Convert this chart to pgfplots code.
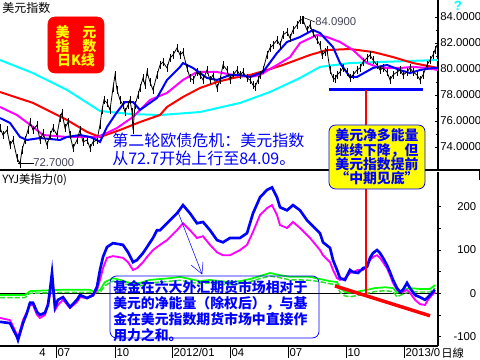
\documentclass[border=0pt]{standalone}
\usepackage{pgfplots}
\pgfplotsset{compat=1.18}
\usepackage{fontspec}
\setmainfont{Liberation Sans}
\newfontfamily\cjk{Noto Sans CJK SC}
\definecolor{lblgray}{RGB}{70,70,90}
\definecolor{mcyan}{RGB}{0,255,255}
\definecolor{mmag}{RGB}{255,0,255}
\definecolor{mblue}{RGB}{0,0,255}
\definecolor{mred}{RGB}{255,0,0}
\definecolor{myel}{RGB}{255,255,0}
\definecolor{mgreen}{RGB}{0,255,0}
\definecolor{mgreen2}{RGB}{40,225,40}
\begin{document}
\begin{tikzpicture}
\useasboundingbox (0,0) rectangle (360pt,270pt);
\fill[white] (0,0) rectangle (360pt,270pt);
% ---------------- top panel ----------------
\begin{axis}[
  at={(0pt,142.5pt)}, anchor=south west,
  scale only axis, width=328.5pt, height=127.5pt,
  xmin=0, xmax=438, ymin=72.23, ymax=85.31,
  axis x line*=bottom, axis y line*=right,
  axis line style={line width=1.5pt,-},
  xtick=\empty,
  ytick={74,76,78,80,82,84}, minor y tick num=1,
  tick align=inside,
  major tick length=2pt, minor tick length=1.5pt,
  tick style={black,line width=0.6pt},
  /pgf/number format/assume math mode=true,
  yticklabel style={font=\fontsize{8.5}{10}\selectfont, anchor=west, inner sep=0pt, xshift=1.5pt,
    /pgf/number format/fixed, /pgf/number format/fixed zerofill, /pgf/number format/precision=4},
]
% cyan long MA
\addplot[mcyan, line width=1.5pt] coordinates {(0,80.69)(33,79.69)(67,78.39)(100,76.77)(130,76.54)(160,76.46)(200,76.69)(240,77.39)(270,78.23)(300,79.31)(320,80.16)(350,80.46)(380,80.54)(410,80.62)(438,80.69)};
% red MA
\addplot[mred, line width=1.5pt] coordinates {(0,78.23)(33,77.39)(67,76.08)(87,75.16)(100,74.77)(120,75.31)(140,75.92)(160,76.46)(167,77.08)(183,77.85)(200,78.54)(217,79.00)(233,79.31)(250,79.54)(267,79.92)(283,80.31)(310,81.08)(327,81.46)(350,81.54)(373,81.31)(393,80.92)(413,80.46)(438,80.08)};
% magenta MA
\addplot[mmag, line width=1.5pt] coordinates {(0,77.08)(17,76.46)(33,75.54)(43,74.92)(67,74.77)(97,74.77)(107,75.08)(117,75.46)(133,76.31)(150,77.62)(167,78.16)(183,79.16)(197,79.77)(217,79.77)(233,79.54)(250,79.39)(260,79.54)(277,80.31)(290,80.92)(300,82.00)(317,82.62)(327,82.46)(340,82.08)(353,81.46)(367,80.46)(380,80.08)(400,80.08)(413,80.16)(427,80.08)(438,79.92)};
% blue MA
\addplot[mblue, line width=1.5pt] coordinates {(0,76.23)(10,75.85)(20,74.77)(27,74.54)(40,74.69)(60,74.54)(67,74.77)(80,74.92)(90,74.77)(97,74.54)(100,74.39)(107,75.54)(117,76.69)(125,77.46)(133,77.46)(140,76.85)(147,77.23)(157,77.77)(167,79.16)(180,80.16)(183,80.46)(193,80.08)(207,79.31)(217,79.16)(230,79.54)(240,79.54)(250,79.39)(263,79.77)(277,81.23)(287,82.08)(300,82.46)(313,83.00)(320,82.77)(333,81.69)(340,80.46)(350,79.39)(357,79.39)(373,80.08)(387,80.31)(400,79.92)(410,79.69)(420,79.92)(433,80.08)(438,80.10)};
% price (black) with daily high-low sticks
\addplot[black, line width=0.6pt, mark=none,
  error bars/.cd, y dir=both, y fixed=0.3, error mark=none,
  error bar style={black,line width=0.6pt}] coordinates {(0,75.46)(3,74.92)(7,75.31)(10,74.15)(13,74.54)(17,73.16)(20,72.70)(22,73.77)(25,74.54)(28,75.31)(30,75.92)(33,75.31)(37,75.69)(40,74.54)(43,75.08)(47,74.15)(50,74.92)(53,75.46)(57,74.92)(60,76.23)(62,76.62)(65,75.46)(68,75.92)(70,74.92)(73,73.93)(77,74.54)(80,75.31)(83,74.39)(87,74.54)(90,73.93)(93,74.39)(97,74.54)(100,75.69)(102,76.85)(104,77.62)(107,77.39)(110,76.85)(113,78.54)(115,79.54)(117,78.39)(120,77.62)(123,77.23)(125,76.69)(128,77.23)(130,77.62)(132,76.69)(133,75.31)(135,77.23)(138,78.00)(140,78.54)(143,79.31)(145,78.77)(147,79.77)(150,79.00)(153,78.39)(157,79.54)(160,80.31)(163,80.54)(167,80.08)(170,80.85)(173,81.08)(177,81.62)(180,81.08)(183,81.31)(187,80.08)(190,79.31)(193,79.16)(197,79.77)(200,79.54)(203,79.16)(207,79.92)(210,79.16)(213,79.54)(217,78.54)(220,79.16)(223,80.31)(227,79.92)(230,79.16)(233,79.54)(237,79.92)(240,79.54)(243,79.77)(247,79.31)(250,79.16)(253,78.77)(255,78.62)(258,79.16)(260,79.54)(263,79.92)(267,81.08)(270,81.62)(273,81.85)(277,82.23)(280,81.85)(283,82.62)(287,82.85)(290,82.39)(293,83.00)(297,83.39)(300,83.77)(302,83.79)(303,83.77)(307,83.00)(310,83.39)(313,82.77)(317,82.23)(320,81.85)(322,81.08)(325,81.31)(327,81.46)(330,79.92)(333,79.31)(335,79.22)(337,79.54)(340,79.77)(343,80.08)(347,79.77)(350,79.31)(353,79.54)(357,79.92)(360,80.08)(363,80.54)(367,80.85)(370,81.08)(373,80.69)(377,80.31)(380,79.92)(383,80.08)(387,79.77)(390,79.16)(393,79.54)(397,79.77)(400,79.92)(403,79.54)(407,79.77)(410,80.08)(413,79.77)(417,79.54)(420,79.16)(423,79.54)(427,80.31)(430,80.69)(433,81.08)(435,81.46)(437,81.85)};
% support line and red marker
\addplot[mblue, line width=2.2pt] coordinates {(329,78.39)(423,78.39)};
\addplot[mred, line width=0.8pt] coordinates {(366,78.39)(366,72.23)};
\end{axis}
% ---------------- bottom panel ----------------
\begin{axis}[
  at={(0pt,10.5pt)}, anchor=south west,
  scale only axis, width=328.5pt, height=130.5pt,
  xmin=0, xmax=438, ymin=-121.9, ymax=280.6,
  axis x line*=bottom, axis y line*=right,
  axis line style={line width=1.5pt,-},
  xtick={56,115,172,230,288,346,404},
  xticklabels={07,10,2012/01,04,07,10,2013/0},
  minor x tick num=8,
  ytick={-100,0,100,200}, minor y tick num=1,
  tick align=outside,
  major tick length=2.5pt, minor tick length=2pt,
  tick style={black,line width=0.6pt},
  /pgf/number format/assume math mode=true,
  yticklabel style={font=\fontsize{8.5}{10}\selectfont, anchor=west, inner sep=0pt, xshift=0pt, text width=26pt, align=right},
  xticklabel style={font=\fontsize{8.5}{10}\selectfont, anchor=north west, inner sep=0pt, xshift=1pt, yshift=1pt},
]
\addplot[black, line width=0.8pt] coordinates {(0,0)(438,0)};
% green lines
\addplot[mgreen2, line width=1.1pt, dash pattern=on 4pt off 1.5pt] coordinates {(0,-10)(25,-10)(30,0)(60,2)(90,2)(100,2)(105,18)(113,28)(120,26)(130,18)(140,17)(150,24)(170,28)(180,30)(190,26)(200,22)(210,24)(220,21)(230,20)(240,22)(250,27)(260,34)(270,40)(280,36)(290,31)(300,31)(310,30)(320,27)(330,22)(337,20)(340,2)(345,-6)(350,-8)(360,-4)(367,0)(375,4)(385,6)(393,4)(397,-8)(403,-2)(410,4)(420,3)(430,3)(435,12)};
\addplot[mgreen, line width=1.3pt] coordinates {(0,-4)(25,-4)(30,5)(60,8)(90,8)(95,3)(100,8)(105,26)(113,35)(120,31)(130,24)(140,24)(150,31)(170,35)(180,38)(190,33)(200,28)(210,31)(220,28)(230,26)(240,28)(250,33)(260,40)(270,47)(280,42)(290,38)(300,38)(310,38)(320,33)(330,28)(337,26)(340,12)(345,3)(350,1)(360,5)(367,8)(375,12)(385,14)(393,12)(397,1)(403,8)(410,12)(420,10)(430,10)(435,19)};
% magenta
\addplot[mmag, line width=1.4pt] coordinates {(0,-57)(10,-62)(17,-96)(18,-103)(23,-62)(27,-43)(30,-27)(33,-27)(37,-50)(40,-57)(45,-50)(50,-4)(52,42)(55,-39)(58,-27)(63,-15)(70,-34)(77,-20)(80,-9)(87,-11)(93,-6)(97,8)(100,31)(103,58)(107,82)(113,86)(123,82)(128,72)(133,54)(137,58)(143,72)(147,84)(153,100)(160,112)(167,123)(177,146)(183,162)(190,146)(197,128)(203,132)(210,112)(217,95)(223,88)(230,88)(240,100)(247,112)(253,142)(260,181)(267,197)(272,204)(277,181)(280,158)(287,151)(293,165)(300,151)(307,135)(310,128)(320,100)(323,88)(330,72)(333,54)(337,35)(340,31)(345,35)(350,47)(353,49)(358,54)(363,54)(367,61)(370,77)(373,84)(377,88)(380,82)(383,72)(387,58)(390,42)(393,24)(397,8)(400,3)(403,3)(407,8)(410,1)(415,-15)(420,-25)(425,-27)(428,-15)(432,-4)(435,3)};
% blue
\addplot[mblue, line width=2pt] coordinates {(0,-66)(10,-69)(17,-101)(18,-108)(23,-69)(27,-45)(30,-22)(33,-22)(37,-43)(40,-50)(45,-45)(48,-27)(50,8)(52,47)(53,19)(55,-32)(58,-15)(63,-9)(70,-32)(77,-15)(80,-4)(87,-11)(93,-4)(97,15)(100,54)(103,84)(107,107)(113,116)(123,112)(128,95)(133,72)(137,77)(143,93)(147,107)(153,128)(157,146)(160,146)(167,162)(177,185)(183,204)(190,185)(197,162)(203,165)(210,146)(217,123)(223,118)(230,128)(240,128)(247,139)(253,185)(260,222)(267,239)(272,245)(277,222)(280,199)(287,192)(293,204)(300,192)(307,169)(310,162)(320,139)(323,118)(330,105)(333,77)(337,54)(340,35)(345,31)(350,54)(353,49)(358,47)(363,58)(367,61)(370,82)(373,93)(377,100)(380,93)(383,82)(387,65)(390,49)(393,31)(397,12)(400,3)(403,8)(407,24)(410,12)(415,-4)(420,-9)(425,-15)(428,-9)(432,1)(435,8)};
% red marker line and trend line
\addplot[mred, line width=0.8pt] coordinates {(366,280.6)(366,-9)};
\addplot[mred, line width=2.6pt] coordinates {(335,17)(430,-52)};
\end{axis}
% ---------------- annotations (pixel coordinates) ----------------
\begin{scope}[x=0.75pt,y=-0.75pt,yshift=270pt]
\draw[black,line width=1.5pt] (0,170) -- (480,170);
\draw[black,line width=1.5pt] (480,170) -- (480,180);
% long month ticks
\foreach \t in {56,115,172,230,288,346,404} \draw[black,line width=0.6pt] (\t,346) -- (\t,358);
\node[anchor=north east,inner sep=0pt,font=\fontsize{8.5}{10}\selectfont] at (46,348) {4};
\node[anchor=north west,inner sep=0pt,font=\cjk\fontsize{8.5}{10}\selectfont] at (441,348) {日線};
\node[anchor=north west,inner sep=0pt,font=\cjk\fontsize{9}{10}\selectfont] at (2,2) {美元指数};
\node[anchor=north west,inner sep=0pt,font=\cjk\fontsize{8.5}{10}\selectfont] at (2,174) {YYJ美指力(0)};
\node[anchor=center,inner sep=0pt,text=mcyan,font=\bfseries\fontsize{10}{10}\selectfont] at (458,6) {?};
% red box
\draw[mred,fill=mred,rounded corners=5pt] (48,17) rectangle (104,73);
\node[text=myel,align=center,inner sep=0pt,font=\cjk\bfseries\fontsize{10.5}{10.5}\selectfont] at (76,46) {美\hspace{0.9em}元\\指\hspace{0.9em}数\\日K线};
% peak / trough labels
\draw[black,line width=0.4pt] (302,17) -- (315,22);
\node[anchor=west,inner sep=0pt,text=lblgray,font=\fontsize{8.5}{10}\selectfont] at (315,22) {84.0900};
\draw[black,line width=0.4pt] (18,163) -- (34,163);
\node[anchor=west,inner sep=0pt,text=lblgray,font=\fontsize{8.5}{10}\selectfont] at (33,163) {72.7000};
% big blue text
\node[anchor=north west,inner sep=0pt,text=mblue,align=left,font=\cjk\fontsize{12}{13.5}\selectfont] at (112,133) {第二轮欧债危机：美元指数\\从72.7开始上行至84.09。};
% yellow box
\draw[mblue,fill=myel,rounded corners=5pt,line width=0.6pt] (329,125) rectangle (425,189);
\node[text=mblue,align=center,inner sep=0pt,font=\cjk\bfseries\fontsize{10.4}{10.8}\selectfont] at (377,157) {美元净多能量\\继续下降，但\\美元指数提前\\“中期见底”};
% bottom box
\draw[mblue,rounded corners=5pt,line width=0.6pt] (110,276) rectangle (319,338);
\node[anchor=north west,text=mblue,align=left,inner sep=0pt,font=\cjk\bfseries\fontsize{10.4}{12}\selectfont] at (113,280) {基金在六大外汇期货市场相对于\\美元的净能量（除权后），与基\\金在美元指数期货市场中直接作\\用力之和。};
% thin arrow
\draw[mblue,line width=0.4pt] (178,212) -- (202,274);
\draw[mblue,line width=0.4pt] (191,265) -- (202,274) -- (203,262);
\end{scope}
\end{tikzpicture}
\end{document}
